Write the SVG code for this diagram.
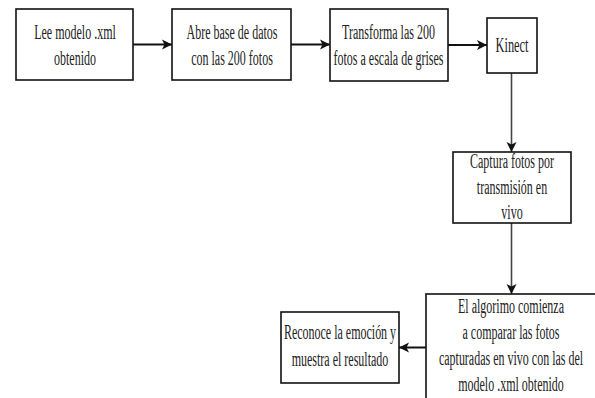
<svg xmlns="http://www.w3.org/2000/svg" width="595" height="398" viewBox="0 0 595 398">
<style>
.box{fill:#fff;stroke:#111;stroke-width:1.6}
.t{font-family:"Liberation Serif","Times New Roman",serif;font-size:20px;fill:#222;text-anchor:middle}
.c{fill:none;stroke:#111;stroke-width:2}
.cv{fill:none;stroke:#444;stroke-width:1.6}
</style>
<defs>
<marker id="ah" viewBox="0 0 10 10" refX="10" refY="5" markerWidth="10" markerHeight="11" markerUnits="userSpaceOnUse" orient="auto">
<path d="M0,0 L10,5 L0,10 L2.5,5 z" fill="#111"/>
</marker>
</defs>
<rect width="595" height="398" fill="#fff"/>
<g id="connectors">
<line class="c" x1="133" y1="44.5" x2="172" y2="44.5" marker-end="url(#ah)"/>
<line class="c" x1="291" y1="44.5" x2="330" y2="44.5" marker-end="url(#ah)"/>
<line class="c" x1="448" y1="45" x2="487" y2="45" marker-end="url(#ah)"/>
<line class="cv" x1="511.5" y1="73" x2="511.5" y2="152" marker-end="url(#ah)"/>
<line class="cv" x1="511.5" y1="223" x2="511.5" y2="294" marker-end="url(#ah)"/>
<line class="c" x1="426" y1="347.5" x2="399" y2="347.5" marker-end="url(#ah)"/>
</g>
<g id="n1">
<rect class="box" x="16" y="9" width="117" height="71"/>
<text class="t" transform="translate(75 0) scale(0.6 1)"><tspan x="0" y="39">Lee modelo .xml</tspan><tspan x="0" y="65">obtenido</tspan></text>
</g>
<g id="n2">
<rect class="box" x="172" y="9" width="119" height="71"/>
<text class="t" transform="translate(232 0) scale(0.6 1)"><tspan x="0" y="39">Abre base de datos</tspan><tspan x="0" y="65">con las 200 fotos</tspan></text>
</g>
<g id="n3">
<rect class="box" x="330" y="9" width="118" height="72"/>
<text class="t" transform="translate(388.5 0) scale(0.6 1)"><tspan x="0" y="39">Transforma las 200</tspan><tspan x="0" y="65">fotos a escala de grises</tspan></text>
</g>
<g id="n4">
<rect class="box" x="487" y="18" width="50" height="55"/>
<text class="t" transform="translate(512 0) scale(0.62 1)"><tspan x="0" y="52">Kinect</tspan></text>
</g>
<g id="n5">
<rect class="box" x="453" y="152" width="118" height="71"/>
<text class="t" transform="translate(512 0) scale(0.6 1)"><tspan x="0" y="168">Captura fotos por</tspan><tspan x="0" y="194">transmisión en</tspan><tspan x="0" y="219">vivo</tspan></text>
</g>
<g id="n6">
<rect class="box" x="426" y="294" width="172" height="110"/>
<text class="t" transform="translate(511 0) scale(0.6 1)"><tspan x="0" y="313">El algorimo comienza</tspan><tspan x="0" y="339">a comparar las fotos</tspan><tspan x="0" y="365">capturadas en vivo con las del</tspan><tspan x="0" y="391">modelo .xml obtenido</tspan></text>
</g>
<g id="n7">
<rect class="box" x="281" y="312" width="118" height="71"/>
<text class="t" transform="translate(340 0) scale(0.6 1)"><tspan x="0" y="339">Reconoce la emoción y</tspan><tspan x="0" y="366">muestra el resultado</tspan></text>
</g>
</svg>
